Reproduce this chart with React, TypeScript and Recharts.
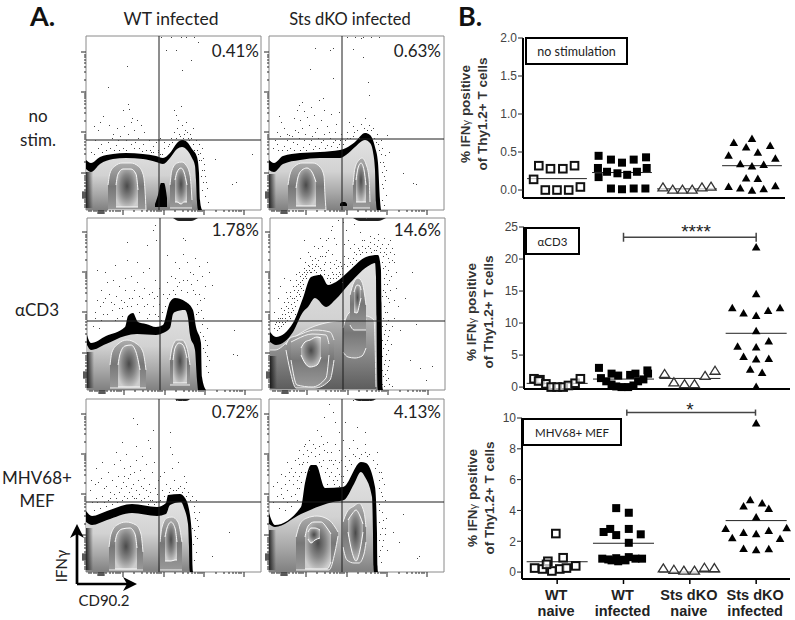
import React from 'react';
import { Area, ComposedChart, ReferenceArea, ReferenceLine, Scatter, ScatterChart, XAxis, YAxis } from 'recharts';

type Triple = [number, number, number];
type Pt = [number, number];

// ---- panel B values ----
const groupTicks = [1, 2, 3, 4];
const groupLabels = [['WT', 'naive'], ['WT', 'infected'], ['Sts dKO', 'naive'], ['Sts dKO', 'infected']];

const noStimNaive: Pt[] = [[0.64, 0.14], [0.72, 0.32], [0.9, 0.28], [1.09, 0.28], [1.27, 0.32], [0.82, 0], [1.0, 0], [1.18, 0], [1.36, 0.04]];
const noStimInfected: Pt[] = [[1.64, 0.45], [1.83, 0.4], [2, 0.36], [2.18, 0.4], [2.37, 0.43], [1.63, 0.29], [1.77, 0.24], [1.93, 0.22], [2.08, 0.2], [2.23, 0.24], [2.38, 0.29], [1.64, 0.17], [1.83, 0.02], [2, 0.01], [2.18, 0.02], [2.36, 0.02]];
const noStimKoNaive: Pt[] = [[2.63, 0.03], [2.78, 0], [2.93, 0], [3.08, 0], [3.23, 0.03], [3.37, 0.04]];
const noStimKoInfected: Pt[] = [[3.72, 0.62], [4, 0.67], [4.28, 0.58], [3.91, 0.56], [4.09, 0.49], [3.64, 0.45], [4.36, 0.41], [3.82, 0.34], [4, 0.31], [4.18, 0.33], [3.91, 0.15], [4.09, 0.145], [3.64, 0.04], [3.82, 0.02], [4, -0.01], [4.18, 0.01], [4.36, 0.05]];
const noStimMeans = [0.15, 0.23, 0.015, 0.32];

const cd3Naive: Pt[] = [[0.65, 1.3], [0.74, 1.15], [0.72, 0.95], [0.83, 0.5], [0.91, 0], [1, 0], [1.09, 0], [1.17, 0.25], [1.27, 0.6], [1.35, 1.3]];
const cd3Infected: Pt[] = [[1.63, 3], [1.66, 1.4], [1.82, 2.1], [1.92, 1.8], [2.1, 1.9], [2.18, 2.1], [2.36, 2.6], [1.74, 0.9], [1.82, 0.4], [1.89, 0.1], [1.97, 0], [2.07, 0], [2.15, 0.25], [2.22, 0.9], [2.3, 1.2], [2.37, 2.1]];
const cd3KoNaive: Pt[] = [[2.62, 2], [2.76, 0.7], [2.92, 0.4], [3.07, 0.4], [3.23, 1.7], [3.38, 2.5]];
const cd3KoInfected: Pt[] = [[4, 21.8], [4, 14.5], [3.64, 12.3], [3.81, 11.5], [4, 11.1], [4.18, 11.9], [4.36, 12.3], [4, 8.7], [4.19, 7.1], [3.72, 6.3], [4, 6.2], [3.81, 4.7], [4, 4.3], [4.19, 4.4], [3.91, 2.7], [4.09, 2.2], [4, 0]];
const cd3Means = [0.58, 1.25, 1.35, 8.4];

const mefNaive: Pt[] = [[0.98, 2.5], [0.86, 0.7], [1.09, 0.93], [1.28, 0.4], [0.66, 0.26], [0.78, 0.2], [0.92, 0.07], [1.04, 0.2], [1.14, 0.26], [0.84, 0.5]];
const mefInfected: Pt[] = [[1.89, 4.15], [2.08, 3.85], [1.8, 2.8], [1.7, 2.6], [2.08, 2.8], [1.89, 2.4], [2.26, 2.45], [2.08, 1.9], [1.68, 0.87], [1.77, 0.82], [1.89, 0.9], [1.97, 0.8], [2.08, 0.97], [2.18, 0.87], [2.28, 0.87], [1.82, 0.76], [1.92, 0.7], [2.03, 0.76]];
const mefKoNaive: Pt[] = [[2.6, 0.22], [2.76, 0.13], [2.91, 0.07], [3.07, 0.07], [3.22, 0.26], [3.37, 0.24]];
const mefKoInfected: Pt[] = [[4, 9.65], [3.91, 4.66], [4.09, 4.45], [3.81, 4.25], [4.19, 4.1], [4, 3.54], [3.54, 2.8], [3.81, 2.54], [4, 2.45], [4.19, 2.67], [4.46, 2.84], [3.64, 2.2], [4.36, 2.15], [3.81, 1.5], [4, 1.41], [4.19, 1.48]];
const mefMeans = [0.67, 1.87, 0, 3.34];

// ---- panel A values (channel units, 0 at lower left of each plot) ----
const facsTicks = [3, 5, 8, 10, 12, 13, 14, 15, 16, 17, 18, 20, 24, 27, 30, 32, 34, 37, 48, 56, 61, 65, 68, 71, 73, 75, 78, 89, 97, 102, 106, 109, 112, 114, 116, 118, 130, 138, 143, 147, 150, 153, 155, 158];
const facsMajor = [37, 78, 118, 158];
const facsBlob = [12, 13, 14, 15, 16, 17, 18];

const r1c1Black: Triple[] = [[0, 0, 50], [5, 0, 47], [14, 0, 53], [27, 0, 56], [40, 0, 57], [57, 0, 56], [70, 0, 54], [77, 0, 52], [84, 0, 57], [91, 0, 67], [96, 0, 70], [101, 0, 68], [106, 0, 61], [111, 0, 53], [113, 0, 37], [114, 0, 10], [116, 0, 0]];
const r1c1Body: Triple[] = [[0, 0, 41], [5, 0, 38], [14, 0, 46], [27, 0, 51], [40, 0, 52], [57, 0, 51], [70, 0, 48], [77, 0, 46], [84, 0, 52], [91, 0, 61], [96, 0, 63], [101, 0, 60], [106, 0, 52], [109, 0, 44], [110, 0, 30], [111, 0, 8], [112, 0, 0]];
const r1c1Edge: Triple[] = [[0, 2, 38], [7, 2, 38]];
const r1c1Spot: Triple[] = [[69, 3, 6], [72, 3, 15], [75, 3, 27], [78, 3, 27], [81, 3, 12]];
const r1c1Rings: Triple[][] = [
  [[22, 0, 25], [24, 0, 37], [29, 0, 44], [36, 0, 47], [45, 0, 47], [52, 0, 44], [57, 0, 36], [59, 0, 20], [60, 0, 0]],
  [[84, 2, 25], [86, 2, 40], [91, 2, 47], [96, 2, 48], [100, 2, 45], [104, 2, 35], [106, 2, 10]],
];
const r1c1Cores: Triple[][] = [
  [[30, 3, 25], [32, 3, 36], [37, 3, 41], [45, 3, 41], [50, 3, 36], [52, 3, 20]],
  [[89, 8, 30], [91, 8, 38], [95, 6, 42], [98, 8, 38], [101, 8, 25]],
];
const r1c1Dots: Pt[] = [[41, 144], [22, 123], [42, 106], [43, 101], [46, 92], [37, 100], [45, 88], [51, 90], [17, 94], [23, 85], [31, 82], [38, 84], [48, 80], [55, 85], [8, 84], [12, 80], [27, 76], [34, 74], [42, 76], [52, 72], [58, 78], [63, 70], [9, 70], [15, 66], [22, 68], [30, 65], [37, 62], [45, 66], [53, 62], [60, 60], [67, 64], [72, 60], [78, 62], [74, 72], [88, 100], [95, 104], [92, 90], [96, 85], [100, 88], [88, 78], [93, 76], [101, 78], [107, 82], [85, 72], [105, 72], [110, 70], [113, 66], [116, 62], [108, 60], [112, 56], [115, 50], [118, 46], [116, 40], [119, 34], [117, 28], [121, 22], [119, 14], [122, 8], [129, 51], [146, 26], [150, 28], [166, 56], [112, 168], [80, 160], [105, 150], [96, 140], [90, 160], [95, 173], [85, 173], [100, 173], [108, 173], [75, 173], [103, 70], [98, 76], [90, 72], [83, 66], [78, 68], [65, 58], [70, 68], [20, 60], [28, 60], [12, 62], [5, 58], [8, 56], [16, 58], [24, 62], [33, 60], [40, 60], [48, 62], [56, 59], [64, 60], [72, 58], [76, 56], [82, 64], [86, 68], [97, 72], [102, 72], [107, 66], [111, 60], [114, 57], [117, 52], [113, 50], [118, 40], [115, 34], [120, 28], [116, 20], [94, 74], [99, 80], [91, 82], [104, 76], [90, 95], [14, 88], [26, 72], [32, 70], [40, 70], [49, 68], [57, 66], [67, 58], [74, 56]];

const r1c2Black: Triple[] = [[0, 0, 50], [5, 0, 47], [14, 0, 54], [31, 0, 57], [51, 0, 58], [71, 0, 60], [77, 0, 62], [86, 0, 68], [96, 0, 77], [101, 0, 75], [106, 0, 63], [109, 0, 47], [111, 0, 10], [112, 0, 0]];
const r1c2Body: Triple[] = [[0, 0, 40], [5, 0, 38], [14, 0, 46], [31, 0, 50], [51, 0, 52], [71, 0, 52], [77, 0, 55], [86, 0, 63], [96, 0, 70], [101, 0, 67], [104, 0, 58], [106, 0, 40], [107, 0, 8], [108, 0, 0]];
const r1c2Edge: Triple[] = [[0, 2, 36], [7, 2, 36]];
const r1c2Spot: Triple[] = [[71, 4, 6], [73, 4, 8], [76, 4, 8], [78, 4, 6]];
const r1c2Rings: Triple[][] = [
  [[19, 0, 25], [21, 0, 36], [26, 0, 44], [33, 0, 47], [44, 0, 47], [51, 0, 43], [55, 0, 34], [56, 0, 15], [57, 0, 0]],
  [[84, 2, 25], [86, 2, 42], [90, 2, 50], [93, 2, 52], [97, 2, 46], [100, 2, 32], [101, 2, 8]],
];
const r1c2Cores: Triple[][] = [
  [[27, 4, 22], [29, 4, 33], [33, 4, 40], [38, 4, 42], [43, 4, 38], [47, 4, 28]],
  [[87, 8, 30], [89, 8, 42], [92, 8, 47], [95, 8, 40], [97, 8, 25]],
];
const r1c2Dots: Pt[] = [[46, 162], [61, 160], [64, 162], [41, 141], [64, 132], [54, 112], [30, 105], [33, 108], [28, 100], [35, 99], [42, 103], [50, 110], [10, 94], [12, 88], [25, 92], [31, 90], [38, 93], [45, 95], [55, 100], [62, 96], [70, 98], [8, 78], [15, 82], [20, 75], [26, 80], [33, 82], [40, 85], [46, 78], [52, 90], [58, 84], [67, 86], [6, 70], [11, 74], [18, 70], [24, 68], [30, 72], [36, 76], [42, 70], [49, 72], [55, 76], [61, 72], [66, 78], [71, 70], [4, 62], [9, 60], [15, 64], [21, 62], [28, 66], [34, 63], [40, 66], [46, 64], [52, 68], [58, 65], [64, 68], [70, 66], [76, 70], [99, 128], [100, 115], [94, 153], [92, 172], [84, 161], [78, 173], [86, 173], [94, 173], [102, 173], [110, 173], [80, 88], [84, 84], [78, 78], [88, 80], [92, 86], [95, 82], [85, 78], [100, 85], [104, 82], [108, 76], [112, 70], [107, 68], [113, 62], [116, 55], [111, 48], [115, 44], [113, 38], [116, 30], [114, 22], [117, 15], [113, 10], [115, 5], [134, 37], [144, 27], [147, 26], [118, 75], [90, 72], [120, 58], [8, 66], [13, 60], [18, 60], [25, 60], [31, 60], [37, 60], [44, 61], [50, 62], [56, 62], [62, 64], [68, 63], [74, 66], [81, 72], [84, 74], [98, 80], [102, 80], [105, 72], [109, 66], [112, 56], [110, 60], [114, 48], [117, 40], [115, 34], [113, 26], [18, 76], [23, 74], [29, 78], [35, 70], [43, 74], [48, 82], [54, 70], [60, 78], [66, 70], [72, 76], [78, 72], [96, 92]];

const r2c1Black: Triple[] = [[0, 0, 55], [4, 0, 47], [19, 0, 54], [38, 0, 63], [41, 0, 74], [46, 0, 77], [51, 0, 68], [59, 0, 66], [69, 0, 63], [76, 0, 65], [83, 0, 88], [88, 0, 92], [99, 0, 88], [106, 0, 80], [109, 0, 63], [114, 0, 47], [115, 0, 13], [119, 0, 0]];
const r2c1Body: Triple[] = [[0, 0, 45], [4, 0, 40], [19, 0, 46], [38, 0, 54], [50, 0, 56], [69, 0, 55], [76, 0, 57], [83, 0, 62], [86, 0, 76], [88, 0, 78], [98, 0, 80], [101, 0, 72], [103, 0, 55], [108, 0, 40], [110, 0, 10], [111, 0, 0]];
const r2c1Edge: Triple[] = [[0, 2, 38], [7, 2, 38]];
const r2c1Top: Triple[] = [[86, 172, 172], [92, 169, 172], [104, 169, 172], [111, 172, 172]];
const r2c1Rings: Triple[][] = [
  [[23, 2, 25], [25, 2, 38], [31, 2, 46], [40, 2, 50], [50, 2, 46], [56, 2, 38], [59, 2, 20]],
  [[83, 5, 30], [85, 5, 42], [90, 5, 50], [95, 5, 50], [100, 5, 42], [103, 5, 25]],
];
const r2c1Cores: Triple[][] = [
  [[31, 3, 25], [33, 3, 36], [38, 3, 44], [44, 3, 45], [49, 3, 38], [53, 3, 20]],
  [[86, 7, 30], [88, 7, 42], [92, 7, 47], [96, 7, 45], [100, 7, 32]],
];
const r2c1Dots: Pt[] = [[68, 165], [66, 160], [69, 150], [40, 148], [60, 145], [96, 152], [98, 150], [10, 120], [18, 118], [28, 125], [40, 130], [50, 128], [10, 90], [14, 100], [20, 108], [26, 110], [32, 104], [38, 112], [44, 114], [50, 108], [56, 118], [62, 122], [68, 110], [72, 102], [8, 78], [13, 84], [18, 92], [24, 88], [29, 94], [34, 90], [38, 100], [42, 92], [47, 100], [52, 94], [57, 102], [62, 96], [67, 92], [72, 86], [76, 96], [8, 72], [14, 70], [20, 76], [25, 80], [30, 72], [35, 82], [52, 78], [57, 84], [62, 76], [66, 84], [71, 74], [75, 78], [80, 92], [80, 108], [86, 100], [84, 114], [90, 104], [92, 122], [96, 110], [100, 128], [103, 118], [108, 132], [112, 124], [110, 110], [115, 114], [118, 104], [120, 128], [106, 100], [112, 96], [117, 92], [122, 118], [110, 86], [114, 80], [109, 76], [116, 72], [120, 62], [116, 54], [120, 45], [118, 38], [122, 30], [119, 24], [121, 18], [147, 60], [150, 35], [146, 36], [80, 135], [88, 128], [96, 136], [125, 105], [16, 88], [22, 96], [27, 86], [32, 82], [37, 88], [40, 84], [45, 92], [50, 86], [55, 92], [60, 86], [65, 98], [70, 94], [44, 84], [35, 74], [28, 70], [16, 76], [6, 64], [12, 62], [60, 72], [68, 76], [74, 70], [78, 84], [82, 96], [88, 96], [94, 100], [100, 98], [104, 106], [108, 96], [113, 90], [111, 78], [115, 66], [113, 58], [118, 50], [116, 42], [120, 34], [106, 116], [100, 110], [92, 108], [88, 112]];

const r2c2Black: Triple[] = [[0, 0, 58], [6, 0, 53], [23, 0, 67], [33, 0, 92], [41, 0, 113], [51, 0, 115], [58, 0, 105], [66, 0, 108], [80, 0, 120], [96, 0, 133], [108, 0, 135], [111, 0, 120], [111.5, 0, 87], [112, 0, 47], [112.5, 0, 3], [113, 0, 0]];
const r2c2Body: Triple[] = [[0, 0, 48], [6, 0, 45], [23, 0, 58], [33, 0, 78], [38, 0, 83], [45, 0, 92], [56, 0, 83], [65, 0, 90], [80, 0, 107], [100, 0, 125], [105, 0, 127], [106, 0, 113], [106.5, 0, 73], [107, 0, 30], [107.5, 0, 3], [108, 0, 0]];
const r2c2Lower: Triple[] = [[0, 0, 40], [5, 0, 40], [20, 0, 50], [40, 0, 62], [60, 0, 68], [73, 0, 70], [80, 0, 72], [96, 0, 74], [104, 0, 70], [106, 0, 3]];
const r2c2Edge: Triple[] = [[0, 2, 34], [7, 2, 34]];
const r2c2Top: Triple[] = [[83, 172, 172], [90, 169, 172], [108, 169, 172], [116, 172, 172]];
const r2c2Rings: Triple[][] = [
  [[16, 40, 45], [20, 20, 52], [26, 2, 54], [45, 2, 60], [60, 10, 58], [64, 30, 50]],
  [[21, 30, 48], [27, 5, 51], [42, 3, 56], [56, 12, 55], [59, 35, 46]],
  [[73, 38, 62], [78, 33, 76], [85, 32, 80], [92, 34, 82], [96, 42, 70]],
  [[80, 65, 95], [84, 60, 108], [88, 60, 112], [92, 60, 108], [96, 60, 85]],
];
const r2c2Cores: Triple[][] = [
  [[31, 35, 42], [35, 27, 48], [40, 23, 50], [47, 25, 53], [51, 33, 52]],
  [[84, 78, 98], [87, 77, 105], [90, 88, 104], [91, 92, 100]],
];
const r2c2Dots: Pt[] = [[61, 160], [64, 152], [66, 146], [68, 170], [70, 128], [56, 138], [60, 128], [52, 134], [48, 142], [54, 120], [62, 118], [68, 114], [46, 126], [50, 122], [42, 130], [38, 125], [34, 122], [36, 112], [30, 108], [33, 100], [28, 100], [26, 94], [24, 88], [30, 94], [22, 82], [18, 78], [25, 76], [15, 72], [20, 72], [12, 68], [8, 64], [5, 66], [10, 72], [14, 80], [18, 88], [22, 92], [26, 104], [30, 114], [34, 118], [40, 118], [44, 120], [48, 130], [55, 128], [58, 115], [63, 112], [66, 122], [70, 116], [72, 108], [66, 130], [62, 136], [58, 140], [54, 126], [50, 116], [46, 118], [42, 122], [36, 120], [32, 110], [28, 106], [24, 100], [20, 94], [16, 84], [12, 76], [8, 72], [4, 62], [16, 98], [10, 104], [8, 92], [4, 78], [20, 110], [14, 112], [26, 116], [30, 132], [38, 138], [44, 144], [34, 150], [50, 152], [56, 150], [62, 164], [73, 168], [76, 160], [78, 150], [74, 146], [80, 142], [84, 138], [78, 132], [86, 130], [90, 136], [92, 144], [96, 138], [100, 142], [104, 146], [108, 150], [112, 146], [116, 142], [120, 138], [122, 130], [118, 132], [114, 138], [110, 142], [106, 140], [100, 148], [94, 150], [88, 142], [104, 152], [114, 152], [118, 146], [122, 142], [124, 136], [112, 128], [115, 124], [118, 120], [121, 114], [114, 112], [117, 106], [120, 100], [113, 100], [116, 94], [119, 88], [114, 84], [117, 78], [113, 72], [116, 66], [119, 60], [114, 56], [117, 50], [121, 46], [113, 42], [116, 36], [119, 30], [114, 26], [117, 20], [113, 14], [116, 10], [119, 6], [122, 4], [112, 6], [124, 72], [126, 102], [128, 84], [130, 60], [135, 92], [142, 118], [146, 66], [140, 30], [150, 22], [156, 10], [162, 24], [84, 166], [90, 158], [96, 172], [60, 108], [66, 112], [72, 122], [82, 126], [74, 134], [52, 144], [58, 152],
  [7, 60], [9, 62], [11, 64], [13, 66], [15, 68], [17, 70], [19, 74], [21, 78], [23, 80], [25, 84], [27, 90], [29, 96], [31, 102], [33, 106], [35, 114], [37, 118], [39, 120], [41, 118], [6, 68], [9, 68], [12, 72], [15, 76], [18, 82], [21, 86], [24, 92], [27, 98], [30, 104], [33, 112], [36, 116], [39, 124], [42, 126], [45, 124], [48, 124], [51, 120], [54, 116], [57, 112], [60, 112], [63, 116], [66, 116], [69, 118], [72, 116], [11, 82], [14, 88], [17, 92], [20, 98], [23, 104], [26, 110], [29, 118], [32, 116], [35, 128], [40, 134], [45, 132], [50, 134], [55, 134], [60, 122], [64, 126], [68, 124], [71, 124], [74, 126], [77, 124], [80, 128], [83, 132], [86, 136], [89, 140], [92, 138], [95, 142], [98, 144], [101, 138], [104, 140], [107, 144], [110, 138], [113, 134], [116, 136], [119, 128], [113, 122], [116, 116], [119, 110], [114, 106], [112, 94], [115, 98], [118, 92], [115, 78], [118, 70], [112, 64], [115, 60], [118, 54], [112, 50], [115, 46], [118, 40], [112, 34], [115, 30], [118, 24], [112, 20], [115, 16], [118, 12], [114, 4], [108, 156], [100, 154], [92, 150], [84, 146], [120, 150], [124, 128], [126, 118], [124, 90], [122, 64]];

const r3c1Black: Triple[] = [[0, 0, 61], [6, 0, 56], [21, 0, 61], [46, 0, 68], [71, 0, 65], [80, 0, 69], [82, 0, 77], [94, 0, 78], [99, 0, 74], [104, 0, 57], [106, 0, 32], [106.5, 0, 6], [107, 0, 0]];
const r3c1Body: Triple[] = [[0, 0, 50], [6, 0, 47], [21, 0, 52], [46, 0, 59], [71, 0, 56], [80, 0, 58], [84, 0, 67], [95, 0, 70], [98, 0, 64], [102, 0, 48], [103, 0, 25], [103.5, 0, 3], [104, 0, 0]];
const r3c1Edge: Triple[] = [[0, 2, 44], [7, 2, 44]];
const r3c1Top: Triple[] = [[89, 173, 173], [93, 171, 173], [100, 171, 173], [104, 173, 173]];
const r3c1Rings: Triple[][] = [
  [[23, 2, 25], [25, 2, 38], [31, 2, 47], [40, 2, 50], [50, 2, 47], [55, 2, 38], [57, 2, 20]],
  [[74, 2, 30], [76, 2, 45], [81, 2, 54], [86, 2, 55], [92, 2, 50], [96, 2, 30]],
];
const r3c1Cores: Triple[][] = [
  [[29, 3, 30], [31, 3, 38], [36, 3, 43], [44, 3, 44], [49, 3, 38], [51, 3, 24]],
  [[79, 11, 35], [81, 11, 44], [85, 11, 50], [89, 12, 44], [91, 12, 30]],
];
const r3c1Dots: Pt[] = [[47, 154], [51, 148], [67, 142], [36, 130], [62, 132], [50, 126], [30, 120], [40, 118], [50, 112], [56, 116], [64, 124], [68, 110], [5, 92], [10, 104], [16, 110], [22, 100], [28, 108], [34, 112], [38, 104], [44, 106], [48, 100], [54, 102], [60, 108], [66, 100], [72, 92], [4, 82], [9, 88], [15, 94], [20, 86], [26, 92], [32, 96], [37, 90], [42, 94], [47, 88], [52, 92], [58, 94], [63, 88], [69, 84], [74, 96], [6, 70], [10, 74], [16, 76], [22, 72], [28, 78], [33, 80], [38, 76], [43, 80], [48, 74], [53, 78], [57, 84], [62, 76], [66, 72], [71, 78], [76, 82], [8, 62], [14, 64], [20, 66], [26, 68], [31, 70], [36, 72], [41, 74], [55, 72], [62, 68], [68, 68], [80, 88], [84, 84], [88, 92], [90, 82], [94, 86], [98, 96], [86, 118], [84, 125], [92, 110], [98, 84], [102, 80], [106, 76], [110, 72], [108, 66], [113, 60], [109, 54], [112, 46], [106, 44], [109, 36], [107, 28], [110, 20], [108, 12], [143, 40], [126, 16], [84, 140], [90, 172], [96, 172], [12, 90], [18, 84], [24, 80], [30, 86], [35, 84], [40, 86], [45, 84], [50, 82], [55, 86], [60, 82], [64, 80], [11, 70], [18, 70], [24, 74], [30, 74], [46, 76], [50, 74], [58, 74], [64, 72], [70, 70], [74, 72], [78, 76], [83, 80], [87, 82], [92, 84], [96, 80], [100, 76], [104, 72], [108, 60], [111, 52], [108, 42], [111, 34], [100, 90], [78, 100], [86, 104], [38, 96], [44, 98]];

const r3c2Black: Triple[] = [[0, 0, 59], [6, 0, 47], [32, 0, 65], [36, 0, 89], [42, 0, 107], [47, 0, 107], [56, 0, 84], [74, 0, 85], [92, 0, 110], [97, 0, 109], [106, 0, 85], [108, 0, 39], [108.5, 0, 6], [109, 0, 0]];
const r3c2Body: Triple[] = [[0, 0, 48], [6, 0, 45], [32, 0, 58], [64, 0, 70], [75, 0, 72], [85, 0, 88], [92, 0, 100], [96, 0, 95], [103, 0, 75], [104, 0, 38], [104.5, 0, 6], [105, 0, 0]];
const r3c2Edge: Triple[] = [[0, 2, 42], [7, 2, 42]];
const r3c2Top: Triple[] = [[85, 173, 173], [90, 171, 173], [102, 171, 173], [107, 173, 173]];
const r3c2Rings: Triple[][] = [
  [[27, 2, 35], [31, 2, 48], [38, 2, 54], [48, 2, 56], [60, 2, 52], [66, 20, 45], [69, 36, 40]],
  [[74, 25, 50], [78, 12, 60], [85, 9, 66], [90, 9, 69], [95, 18, 60], [97, 30, 45]],
];
const r3c2Cores: Triple[][] = [
  [[36, 3, 35], [39, 3, 46], [45, 3, 50], [52, 3, 50], [58, 3, 44], [62, 10, 38]],
  [[39, 33, 40], [42, 29, 44], [46, 32, 44], [51, 34, 42]],
  [[79, 40, 52], [83, 20, 58], [87, 11, 62], [91, 22, 56], [94, 40, 48]],
];
const r3c2Dots: Pt[] = [[60, 168], [64, 160], [66, 150], [55, 155], [48, 142], [52, 136], [44, 128], [40, 132], [36, 128], [58, 130], [62, 120], [66, 128], [70, 122], [72, 112], [30, 122], [34, 118], [38, 122], [26, 112], [30, 108], [34, 110], [38, 110], [50, 118], [55, 122], [60, 112], [64, 108], [68, 104], [72, 96], [22, 104], [26, 100], [30, 96], [52, 106], [56, 100], [60, 96], [64, 92], [68, 92], [20, 92], [24, 88], [28, 84], [32, 90], [16, 96], [12, 98], [8, 90], [4, 86], [12, 84], [18, 82], [22, 76], [8, 76], [14, 74], [4, 70], [28, 72], [10, 64], [16, 62], [22, 66], [58, 88], [65, 88], [70, 86], [74, 96], [78, 102], [82, 108], [86, 116], [92, 118], [98, 116], [104, 112], [108, 108], [112, 100], [110, 92], [115, 88], [112, 80], [116, 72], [110, 68], [113, 60], [117, 54], [110, 50], [113, 44], [116, 38], [110, 32], [113, 26], [118, 22], [110, 16], [112, 10], [80, 124], [88, 124], [96, 128], [84, 132], [76, 116], [108, 120], [134, 58], [130, 30], [124, 40], [150, 16], [148, 14], [76, 150], [88, 145], [96, 140], [84, 172], [92, 172], [100, 172], [70, 140], [74, 132], [46, 116], [40, 102], [36, 100], [18, 110], [50, 110], [54, 112], [58, 104], [62, 100], [66, 96], [70, 98], [74, 90], [28, 92], [32, 100], [33, 108], [29, 114], [35, 126], [39, 116], [42, 120], [46, 124], [50, 126], [54, 128], [58, 120], [62, 112], [66, 112], [70, 110], [76, 106], [80, 112], [84, 118], [90, 114], [96, 120], [100, 118], [106, 104], [110, 100], [113, 94], [110, 84], [113, 76], [110, 62], [114, 52], [116, 44], [111, 38], [114, 32], [111, 22], [24, 96], [20, 100], [16, 88], [12, 78], [18, 70], [26, 78], [30, 84]];

const rangeKey = (d: { lo: number; hi: number }) => [d.lo, d.hi];
const rows = (t: Triple[]) => t.map(([x, lo, hi]) => ({ x, lo, hi }));
const pts = (p: Pt[]) => p.map(([x, y]) => ({ x, y }));

const FacsDot = (props: any) => <rect x={props.cx} y={props.cy} width={1} height={1} fill="#444" />;

const FacsXTick = (props: any) => {
  const v = props.payload.value;
  const len = facsMajor.includes(v) ? 5 : facsBlob.includes(v) ? 4 : 2;
  return <line x1={props.x} x2={props.x} y1={props.y} y2={props.y + len} stroke="#222" strokeWidth={1} />;
};

const FacsYTick = (props: any) => {
  const v = props.payload.value;
  const len = facsMajor.includes(v) ? 5 : facsBlob.includes(v) ? 4 : 2;
  return <line x1={props.x} x2={props.x - len} y1={props.y} y2={props.y} stroke="#222" strokeWidth={1} />;
};

const FacsPlot = ({ left, top, h, black, body, lower, edge, spot, tops, rings, cores, dots, qx, qy }: any) => {
  const layer = (t: Triple[], i: string, fill: string, stroke = 'none', sw = 0) => (
    <Area key={i} data={rows(t)} dataKey={rangeKey as any} type="monotone" fill={fill} fillOpacity={1} stroke={stroke} strokeWidth={sw} dot={false} activeDot={false} isAnimationActive={false} />
  );
  return (
    <div style={{ position: 'absolute', left: left - 8, top: top - 2 }}>
      <ComposedChart width={185} height={h + 8} margin={{ top: 2, right: 2, bottom: 0, left: 0 }}>
        <defs>
          <linearGradient id="facsBody" x1="0" y1="0" x2="0" y2="1">
            <stop offset="0" stopColor="#e2e2e2" />
            <stop offset="0.45" stopColor="#d2d2d2" />
            <stop offset="0.75" stopColor="#a8a8a8" />
            <stop offset="1" stopColor="#808080" />
          </linearGradient>
          <linearGradient id="facsEdge" x1="0" y1="0" x2="1" y2="0">
            <stop offset="0" stopColor="#111" stopOpacity={0.85} />
            <stop offset="1" stopColor="#111" stopOpacity={0} />
          </linearGradient>
          <linearGradient id="facsLower" x1="0" y1="0" x2="0" y2="1">
            <stop offset="0" stopColor="#b8b8b8" />
            <stop offset="1" stopColor="#5c5c5c" />
          </linearGradient>
          <linearGradient id="facsRing" x1="0" y1="0" x2="0" y2="1">
            <stop offset="0" stopColor="#adadad" />
            <stop offset="0.5" stopColor="#777" />
            <stop offset="1" stopColor="#999" />
          </linearGradient>
          <radialGradient id="facsCore" cx="0.5" cy="0.45" r="0.6">
            <stop offset="0" stopColor="#4a4a4a" />
            <stop offset="0.5" stopColor="#858585" />
            <stop offset="1" stopColor="#cdcdcd" />
          </radialGradient>
        </defs>
        <XAxis type="number" dataKey="x" domain={[0, 175]} ticks={facsTicks} interval={0} height={6} axisLine={false} tickLine={false} tickSize={0} tickMargin={0} tick={<FacsXTick />} />
        <YAxis type="number" dataKey="y" domain={[0, h]} ticks={facsTicks} interval={0} width={8} axisLine={false} tickLine={false} tickSize={0} tickMargin={0} tick={<FacsYTick />} />
        <ReferenceArea x1={0} x2={175} y1={0} y2={h} fill="#fff" fillOpacity={0} stroke="#8a8a8a" strokeWidth={1} />
        {layer(black, 'black', '#000')}
        {layer(body, 'body', 'url(#facsBody)')}
        {lower ? layer(lower, 'lower', 'url(#facsLower)', '#eee', 1) : null}
        {layer(edge, 'edge', 'url(#facsEdge)')}
        {spot ? layer(spot, 'spot', '#000') : null}
        {tops ? layer(tops, 'tops', '#222') : null}
        {rings.map((r: Triple[], i: number) => layer(r, 'ring' + i, 'url(#facsRing)', '#f2f2f2', 1))}
        {cores.map((r: Triple[], i: number) => layer(r, 'core' + i, 'url(#facsCore)', '#fafafa', 1))}
        <Scatter data={pts(dots)} shape={<FacsDot />} isAnimationActive={false} />
        <ReferenceLine x={qx} stroke="#1c1c1c" strokeWidth={1} />
        <ReferenceLine y={qy} stroke="#1c1c1c" strokeWidth={1} />
      </ComposedChart>
    </div>
  );
};

const OpenSquare = (p: any) => <rect x={p.cx - 3.8} y={p.cy - 3.8} width={7.6} height={7.6} fill="#fff" fillOpacity={0.7} stroke="#111" strokeWidth={2} />;
const FilledSquare = (p: any) => <rect x={p.cx - 4} y={p.cy - 4} width={8} height={8} fill="#000" />;
const OpenTriangle = (p: any) => <path d={`M${p.cx} ${p.cy - 4.8}L${p.cx + 5} ${p.cy + 3.2}L${p.cx - 5} ${p.cy + 3.2}Z`} fill="#fff" fillOpacity={0.7} stroke="#333" strokeWidth={1.3} />;
const FilledTriangle = (p: any) => <path d={`M${p.cx} ${p.cy - 4.5}L${p.cx + 4.3} ${p.cy + 3}L${p.cx - 4.3} ${p.cy + 3}Z`} fill="#000" />;

const GroupTick = (props: any) => {
  const lines = groupLabels[props.payload.value - 1];
  return (
    <g>
      <line x1={props.x} x2={props.x} y1={props.y - 9} y2={props.y - 4} stroke="#000" strokeWidth={1.5} />
      <text textAnchor="middle" fontFamily="Liberation Sans" fontWeight="bold" fontSize={14.5} fill="#222">
        <tspan x={props.x - 1} y={props.y + 12}>{lines[0]}</tspan>
        <tspan x={props.x - 1} y={props.y + 28}>{lines[1]}</tspan>
      </text>
    </g>
  );
};

const CountChart = ({ left, top, plotW, plotH, xDomain, yDomain, yTicks, fmt, series, means, bracket, labels }: any) => {
  const [naive, infected, koNaive, koInfected] = series;
  return (
    <div style={{ position: 'absolute', left: left - 40, top: top - 20 }}>
      <ScatterChart width={plotW + 48} height={plotH + 20 + (labels ? 44 : 10)} margin={{ top: 20, right: 8, bottom: 0, left: 0 }}>
        <XAxis type="number" dataKey="x" domain={xDomain} ticks={groupTicks} interval={0} height={labels ? 44 : 10} axisLine={{ stroke: '#000', strokeWidth: 2 }} tickLine={labels ? false : { stroke: '#000', strokeWidth: 1.5 }} tickSize={labels ? 9 : 5} tickMargin={0} tick={labels ? <GroupTick /> : false} />
        <YAxis type="number" dataKey="y" domain={yDomain} ticks={yTicks} interval={0} width={40} axisLine={{ stroke: '#000', strokeWidth: 2 }} tickLine={{ stroke: '#222', strokeWidth: 1 }} tickSize={5} tickMargin={1} tickFormatter={fmt} tick={{ fontFamily: 'Liberation Sans', fontSize: 12, fill: '#444' }} />
        <Scatter data={pts(naive)} shape={<OpenSquare />} isAnimationActive={false} />
        <Scatter data={pts(infected)} shape={<FilledSquare />} isAnimationActive={false} />
        <Scatter data={pts(koNaive)} shape={<OpenTriangle />} isAnimationActive={false} />
        <Scatter data={pts(koInfected)} shape={<FilledTriangle />} isAnimationActive={false} />
        {means.map((m: number, i: number) => (
          <ReferenceLine key={i} segment={[{ x: groupTicks[i] - 0.46, y: m }, { x: groupTicks[i] + 0.46, y: m }]} stroke="#222" strokeWidth={1} ifOverflow="visible" />
        ))}
        {bracket ? <ReferenceLine segment={[{ x: bracket.x1, y: bracket.y }, { x: bracket.x2, y: bracket.y }]} stroke="#444" strokeWidth={1.5} ifOverflow="visible" /> : null}
        {bracket ? <ReferenceLine segment={[{ x: bracket.x1, y: bracket.y - bracket.cap }, { x: bracket.x1, y: bracket.y + bracket.cap }]} stroke="#444" strokeWidth={1.5} ifOverflow="visible" /> : null}
        {bracket ? <ReferenceLine segment={[{ x: bracket.x2, y: bracket.y - bracket.cap }, { x: bracket.x2, y: bracket.y + bracket.cap }]} stroke="#444" strokeWidth={1.5} ifOverflow="visible" /> : null}
      </ScatterChart>
    </div>
  );
};

const Txt = ({ x, y, size = 17, right, left, bold, font = 'Lato', color = '#222', children }: any) => (
  <div style={{ position: 'absolute', left: x, top: y, transform: `translate(${right ? '-100%' : left ? '0' : '-50%'}, -50%)`, fontFamily: font, fontSize: size, fontWeight: bold ? 'bold' : 'normal', color, lineHeight: 1, whiteSpace: 'nowrap' }}>
    {children}
  </div>
);

const RotLabel = ({ x, y, children }: any) => (
  <div style={{ position: 'absolute', left: x, top: y, transform: 'translate(-50%, -50%) rotate(-90deg)', fontFamily: 'Liberation Sans', fontSize: 13.5, fontWeight: 'bold', color: '#333', lineHeight: 1, whiteSpace: 'nowrap' }}>
    {children}
  </div>
);

const TagBox = ({ x, y, w, h, size = 12.5, children }: any) => (
  <div style={{ position: 'absolute', left: x, top: y, width: w, height: h, boxSizing: 'border-box', border: '2px solid #000', background: '#fff', display: 'flex', alignItems: 'center', justifyContent: 'center', fontFamily: 'Lato', fontSize: size, color: '#222' }}>
    {children}
  </div>
);

const IfnLabel = ({ x, y }: any) => (
  <>
    <RotLabel x={x} y={y}>% IFN<span style={{ fontWeight: 'normal', fontSize: 11 }}>γ</span> positive</RotLabel>
    <RotLabel x={x + 17} y={y}>of Thy1.2+ T cells</RotLabel>
  </>
);

export default function App() {
  return (
    <div style={{ position: 'absolute', left: 0, top: 0, width: 795, height: 620, overflow: 'hidden', background: '#fff' }}>
      <Txt x={30} y={15} left size={27} bold color="#111">A.</Txt>
      <Txt x={171} y={19} size={17.5}>WT infected</Txt>
      <Txt x={350} y={19} size={16.5}>Sts dKO infected</Txt>
      <Txt x={38} y={115}>no</Txt>
      <Txt x={38} y={139}>stim.</Txt>
      <Txt x={37} y={309}>αCD3</Txt>
      <Txt x={37} y={477}>MHV68+</Txt>
      <Txt x={37} y={500}>MEF</Txt>

      <FacsPlot left={86} top={36} h={174} black={r1c1Black} body={r1c1Body} edge={r1c1Edge} spot={r1c1Spot} rings={r1c1Rings} cores={r1c1Cores} dots={r1c1Dots} qx={73} qy={70} />
      <FacsPlot left={269} top={36} h={174} black={r1c2Black} body={r1c2Body} edge={r1c2Edge} spot={r1c2Spot} rings={r1c2Rings} cores={r1c2Cores} dots={r1c2Dots} qx={73} qy={71} />
      <FacsPlot left={87} top={218} h={172} black={r2c1Black} body={r2c1Body} edge={r2c1Edge} tops={r2c1Top} rings={r2c1Rings} cores={r2c1Cores} dots={r2c1Dots} qx={73} qy={69} />
      <FacsPlot left={270} top={218} h={172} black={r2c2Black} body={r2c2Body} lower={r2c2Lower} edge={r2c2Edge} tops={r2c2Top} rings={r2c2Rings} cores={r2c2Cores} dots={r2c2Dots} qx={73} qy={69} />
      <FacsPlot left={86} top={399} h={173} black={r3c1Black} body={r3c1Body} edge={r3c1Edge} tops={r3c1Top} rings={r3c1Rings} cores={r3c1Cores} dots={r3c1Dots} qx={73} qy={70} />
      <FacsPlot left={269} top={399} h={173} black={r3c2Black} body={r3c2Body} edge={r3c2Edge} tops={r3c2Top} rings={r3c2Rings} cores={r3c2Cores} dots={r3c2Dots} qx={73} qy={70} />

      <Txt x={259} y={50} right>0.41%</Txt>
      <Txt x={441} y={50} right>0.63%</Txt>
      <Txt x={259} y={229} right>1.78%</Txt>
      <Txt x={441} y={229} right>14.6%</Txt>
      <Txt x={259} y={411} right>0.72%</Txt>
      <Txt x={441} y={411} right>4.13%</Txt>

      <svg width={140} height={80} style={{ position: 'absolute', left: 60, top: 520 }}>
        <path d="M17 64V10M17 64H70" stroke="#000" strokeWidth={2.7} fill="none" />
        <path d="M17 4L10 18L17 14L24 18Z" fill="#000" />
        <path d="M77 64L63 57L67 64L63 71Z" fill="#000" />
      </svg>
      <Txt x={61} y={566} size={15}><span style={{ display: 'block', transform: 'rotate(-90deg)' }}>IFNγ</span></Txt>
      <Txt x={104} y={600} size={15}>CD90.2</Txt>

      <Txt x={458} y={15} left size={27} bold color="#111">B.</Txt>

      <IfnLabel x={466} y={114} />
      <CountChart left={523} top={38} plotW={262} plotH={160} xDomain={[0.477, 4.508]} yDomain={[-0.105, 2]} yTicks={[0, 0.5, 1, 1.5, 2]} fmt={(v: number) => v.toFixed(1)} series={[noStimNaive, noStimInfected, noStimKoNaive, noStimKoInfected]} means={noStimMeans} />
      <TagBox x={525} y={37} w={103} h={28}>no stimulation</TagBox>

      <IfnLabel x={472} y={312} />
      <CountChart left={524} top={227} plotW={266} plotH={162} xDomain={[0.5, 4.51]} yDomain={[-0.3, 25]} yTicks={[0, 5, 10, 15, 20, 25]} fmt={(v: number) => String(v)} series={[cd3Naive, cd3Infected, cd3KoNaive, cd3KoInfected]} means={cd3Means} bracket={{ x1: 2, x2: 4, y: 23.4, cap: 0.7 }} />
      <TagBox x={525} y={227} w={55} h={28} size={11.5}>αCD3</TagBox>
      <Txt x={696} y={231} size={19} font="Liberation Sans" color="#222">****</Txt>

      <IfnLabel x={473} y={498} />
      <CountChart left={522} top={418} plotW={268} plotH={161} xDomain={[0.47, 4.51]} yDomain={[-0.45, 10]} yTicks={[0, 2, 4, 6, 8, 10]} fmt={(v: number) => String(v)} series={[mefNaive, mefInfected, mefKoNaive, mefKoInfected]} means={mefMeans} bracket={{ x1: 2.05, x2: 3.99, y: 10.35, cap: 0.2 }} labels />
      <TagBox x={522} y={418} w={100} h={28} size={11.5}>MHV68+ MEF</TagBox>
      <Txt x={690} y={409} size={19} font="Liberation Sans" color="#222">*</Txt>
    </div>
  );
}
